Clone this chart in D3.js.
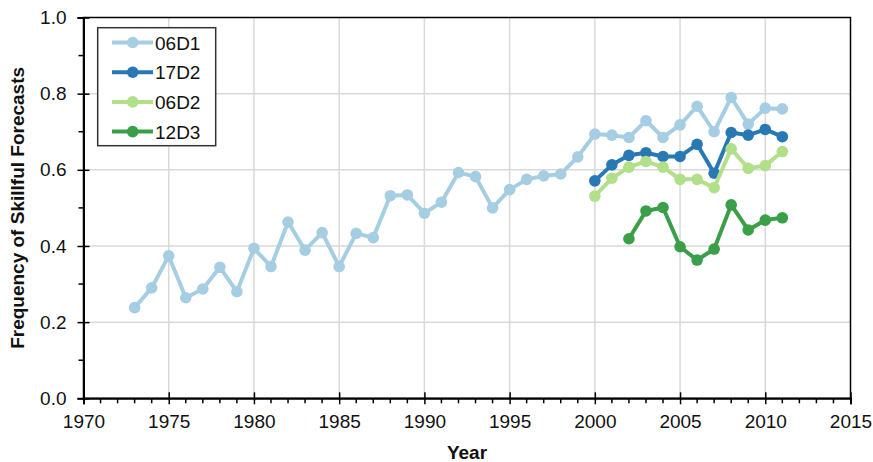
<!DOCTYPE html>
<html><head><meta charset="utf-8">
<script src="https://cdn.jsdelivr.net/npm/d3@7"></script>
<style>body{margin:0;background:#fff}svg{display:block}text{font-family:"Liberation Sans",Arial,sans-serif}</style>
</head><body>
<svg id="c" width="873" height="462"></svg>
<script>
const years06D1 = d3.range(1973, 2012);
const vals06D1 = [0.238,0.290,0.374,0.264,0.287,0.344,0.280,0.394,0.346,0.463,0.389,0.435,0.346,0.433,0.422,0.532,0.534,0.486,0.515,0.593,0.582,0.500,0.548,0.575,0.584,0.589,0.634,0.694,0.691,0.685,0.729,0.685,0.718,0.767,0.700,0.790,0.720,0.762,0.760];
const years17D2 = d3.range(2000, 2012);
const vals17D2 = [0.571,0.613,0.638,0.645,0.635,0.635,0.667,0.591,0.698,0.691,0.706,0.687];
const years06D2 = d3.range(2000, 2012);
const vals06D2 = [0.531,0.578,0.607,0.622,0.607,0.575,0.575,0.553,0.655,0.604,0.611,0.648];
const years12D3 = d3.range(2002, 2012);
const vals12D3 = [0.419,0.492,0.501,0.398,0.363,0.392,0.508,0.442,0.468,0.474];
const seriesNames = ["06D1","17D2","06D2","12D3"];
const seriesColors = ["#a6cee3","#2878b4","#b2df8a","#3a9f48"];
const xTicks = d3.range(1970, 2016, 5);
const yTicks = [0,0.2,0.4,0.6,0.8,1.0];

const series = [
  {name:seriesNames[0], color:seriesColors[0], pts:years06D1.map((y,i)=>[y,vals06D1[i]])},
  {name:seriesNames[1], color:seriesColors[1], pts:years17D2.map((y,i)=>[y,vals17D2[i]])},
  {name:seriesNames[2], color:seriesColors[2], pts:years06D2.map((y,i)=>[y,vals06D2[i]])},
  {name:seriesNames[3], color:seriesColors[3], pts:years12D3.map((y,i)=>[y,vals12D3[i]])}
];

const svg = d3.select("#c");
const L=83.5, R=850.5, T=17.5, B=398.3;
const x = d3.scaleLinear().domain([1970,2015]).range([L,R]);
const y = d3.scaleLinear().domain([0,1]).range([B,T]);

// grid
const g = svg.append("g");
g.selectAll(".vg").data(xTicks.slice(1,-1)).join("line")
  .attr("x1",d=>x(d)).attr("x2",d=>x(d)).attr("y1",T).attr("y2",B)
  .attr("stroke","#d9d9d9").attr("stroke-width",1.5);
g.selectAll(".hg").data(yTicks.slice(1,-1)).join("line")
  .attr("y1",d=>y(d)).attr("y2",d=>y(d)).attr("x1",L).attr("x2",R)
  .attr("stroke","#d9d9d9").attr("stroke-width",1.5);

// frame
svg.append("rect").attr("x",L).attr("y",T).attr("width",R-L).attr("height",B-T)
  .attr("fill","none").attr("stroke","#000").attr("stroke-width",1.5);

// x axis
const xa = svg.append("g").attr("transform",`translate(0,${B})`)
  .call(d3.axisBottom(x).tickValues(xTicks).tickFormat(d3.format("d")).tickSize(6).tickPadding(10));
xa.select(".domain").attr("stroke","#000").attr("stroke-width",2);
xa.selectAll(".tick line").attr("y1",-6).attr("stroke-width",1.5);
xa.selectAll("text").attr("font-size",19).attr("fill","#111").attr("font-family","Liberation Sans, Arial, sans-serif");
svg.append("g").selectAll("line").data(d3.range(1971,2015).filter(d=>d%5)).join("line")
  .attr("x1",d=>x(d)).attr("x2",d=>x(d)).attr("y1",B).attr("y2",B+5)
  .attr("stroke","#000").attr("stroke-width",1.5);

// y axis
const ya = svg.append("g").attr("transform",`translate(${L},0)`)
  .call(d3.axisLeft(y).tickValues(yTicks).tickFormat(d3.format(".1f")).tickSize(6).tickPadding(11));
ya.select(".domain").attr("stroke","#000").attr("stroke-width",2);
ya.selectAll(".tick line").attr("x1",6).attr("stroke-width",1.5);
ya.selectAll("text").attr("font-size",19).attr("fill","#111").attr("font-family","Liberation Sans, Arial, sans-serif");
svg.append("g").selectAll("line").data([0.1,0.3,0.5,0.7,0.9]).join("line")
  .attr("y1",d=>y(d)).attr("y2",d=>y(d)).attr("x1",L-5).attr("x2",L)
  .attr("stroke","#000").attr("stroke-width",1.5);

// titles
svg.append("text").attr("x",(L+R)/2).attr("y",459).attr("text-anchor","middle")
  .attr("font-size",19).attr("font-weight","bold").attr("fill","#111").text("Year");
svg.append("text").attr("transform",`translate(24,${(T+B)/2}) rotate(-90)`).attr("text-anchor","middle")
  .attr("font-size",19).attr("font-weight","bold").attr("fill","#111").text("Frequency of Skillful Forecasts");

// series
const line = d3.line().x(d=>x(d[0])).y(d=>y(d[1]));
series.forEach(s=>{
  const sg = svg.append("g");
  sg.append("path").attr("d",line(s.pts)).attr("fill","none").attr("stroke",s.color)
    .attr("stroke-width",4).attr("stroke-linejoin","round");
  sg.selectAll("circle").data(s.pts).join("circle")
    .attr("cx",d=>x(d[0])).attr("cy",d=>y(d[1])).attr("r",5.8).attr("fill",s.color);
});

// legend
const lg = svg.append("g");
lg.append("rect").attr("x",97.7).attr("y",27.7).attr("width",118).attr("height",118)
  .attr("fill","#fff").attr("stroke","#333").attr("stroke-width",1.5);
series.forEach((s,i)=>{
  const cy = 42.5 + i*29.7;
  lg.append("line").attr("x1",112).attr("x2",153).attr("y1",cy).attr("y2",cy)
    .attr("stroke",s.color).attr("stroke-width",4);
  lg.append("circle").attr("cx",132.7).attr("cy",cy).attr("r",5.8).attr("fill",s.color);
  lg.append("text").attr("x",155).attr("y",cy+7).attr("font-size",19).attr("fill","#111").text(s.name);
});
</script>
</body></html>
